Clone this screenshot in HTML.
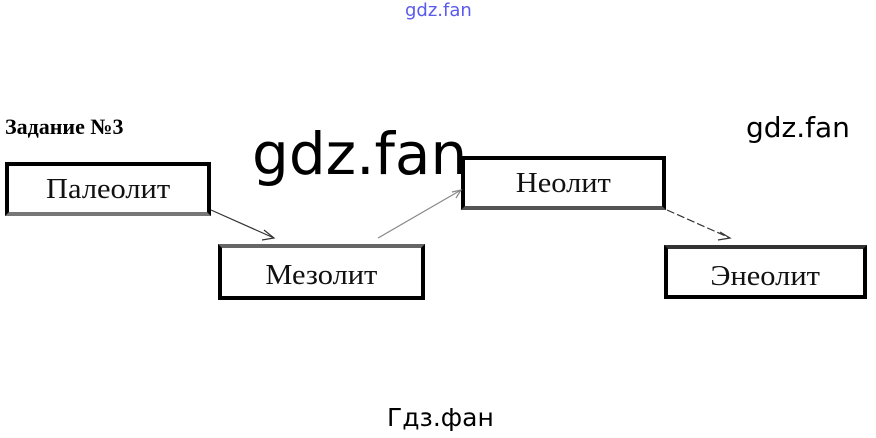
<!DOCTYPE html>
<html><head><meta charset="utf-8"><style>
html,body{margin:0;padding:0;background:#fff;}
body{width:876px;height:438px;position:relative;overflow:hidden;}
.t{position:absolute;white-space:nowrap;}
.box{position:absolute;border:4px solid #000;box-sizing:border-box;font-family:"Liberation Serif",serif;font-size:29px;text-align:center;color:#111;}
.box span{display:inline-block;transform:scaleX(1.05);}
.wm{font-family:"DejaVu Sans","Liberation Sans",sans-serif;color:#000;}
</style></head><body>
<div class="t wm" style="left:405px;top:0px;font-size:18px;color:#5a5aee;">gdz.fan</div>
<div class="t" style="left:5px;top:114px;font-family:'Liberation Serif',serif;font-weight:bold;font-size:22px;">Задание №3</div>
<div class="box" style="left:5px;top:162px;width:206px;height:54px;line-height:46px;border-bottom-color:#777;"><span>Палеолит</span></div>
<div class="box" style="left:218px;top:244px;width:207px;height:56px;line-height:54px;border-top-color:#666;"><span>Мезолит</span></div>
<div class="box" style="left:461px;top:156px;width:205px;height:54px;line-height:46px;border-bottom-color:#555;"><span>Неолит</span></div>
<div class="box" style="left:664px;top:245px;width:203px;height:54px;line-height:54px;border-top-color:#333;"><span>Энеолит</span></div>
<svg style="position:absolute;left:0;top:0" width="876" height="438">
<g stroke="#333" stroke-width="1.2" fill="none">
<line x1="211" y1="210" x2="274" y2="238"/>
<polyline points="264,230 274,238 262,240"/>
<line x1="378" y1="238" x2="461" y2="190" stroke="#888"/>
<polyline points="452,192 461,190 456,198" stroke="#888"/>
<line x1="667" y1="210" x2="730" y2="238" stroke-dasharray="8,3"/>
<polyline points="720,232 730,238 718,240"/>
</g></svg>
<div class="t wm" style="left:252px;top:118px;font-size:58px;line-height:72px;">gdz.fan</div>
<div class="t wm" style="left:746px;top:110px;font-size:28px;line-height:36px;">gdz.fan</div>
<div class="t wm" style="left:387px;top:400px;font-size:25px;line-height:36px;">Гдз.фан</div>
</body></html>
